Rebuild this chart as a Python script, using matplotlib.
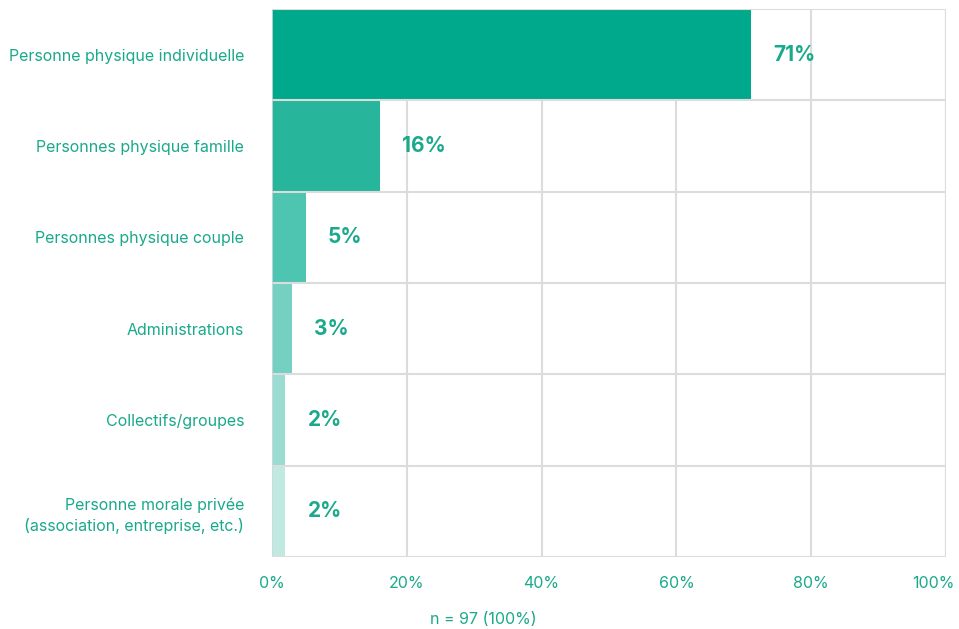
import matplotlib
matplotlib.use("Agg")
import matplotlib.pyplot as plt
from matplotlib.transforms import ScaledTranslation

categories = [
    "Personne physique individuelle",
    "Personnes physique famille",
    "Personnes physique couple",
    "Administrations",
    "Collectifs/groupes",
    "Personne morale privée\n(association, entreprise, etc.)",
]
values = [71, 16, 5, 3, 2, 2]
bar_colors = ["#00a98b", "#27b69c", "#4dc5b0", "#74d1c1", "#9adcd1", "#c0e9e2"]
x_ticks = [0, 20, 40, 60, 80, 100]
x_tick_labels = ["0%", "20%", "40%", "60%", "80%", "100%"]
footnote = "n = 97 (100%)"

text_color = "#1aa98b"
grid_color = "#dcdcdc"

plt.rcParams["font.family"] = ["Inter", "DejaVu Sans"]

fig = plt.figure(figsize=(9.59, 6.29), dpi=100)
ax = fig.add_axes([272 / 959, 1 - 557 / 629, (946 - 272) / 959, (557 - 9) / 629])

n = len(categories)
ypos = list(range(n))
ax.barh(ypos, values, height=1.0, color=bar_colors, zorder=2)

for y, v in zip(ypos, values):
    ax.text(v + 3.3, y, f"{v}%", va="center", ha="left", fontsize=15,
            fontweight="bold", color=text_color, zorder=3)

ax.set_xlim(0, 100)
ax.set_ylim(n - 0.5, -0.5)
ax.set_xticks(x_ticks)
ax.set_xticklabels(x_tick_labels, fontsize=11.5, color=text_color)
ax.set_yticks(ypos)
ax.set_yticklabels(categories, fontsize=11.5, color=text_color,
                   multialignment="right", linespacing=1.4)
ax.tick_params(axis="both", length=0)
ax.tick_params(axis="x", pad=14)
ax.tick_params(axis="y", pad=20)

# keep the last x label inside the figure
last = ax.get_xticklabels()[-1]
last.set_transform(last.get_transform() + ScaledTranslation(-13 / 100, 0, fig.dpi_scale_trans))

# vertical gridlines at tick positions
ax.grid(axis="x", color=grid_color, linewidth=1.5, zorder=1)
# horizontal separators between category bands
for b in [i - 0.5 for i in range(n + 1)]:
    ax.axhline(b, color=grid_color, linewidth=1.5, zorder=2.5)

for side in ["top", "right", "bottom", "left"]:
    ax.spines[side].set_visible(False)
ax.axvline(0, color="#cfd8dc", linewidth=1.2, zorder=2.6)
ax.axvline(100, color=grid_color, linewidth=1.5, zorder=1)

fig.text(483 / 959, 1 - 620 / 629, footnote, ha="center", va="center",
         fontsize=11.5, color=text_color)

fig.savefig("out.png", dpi=100)
